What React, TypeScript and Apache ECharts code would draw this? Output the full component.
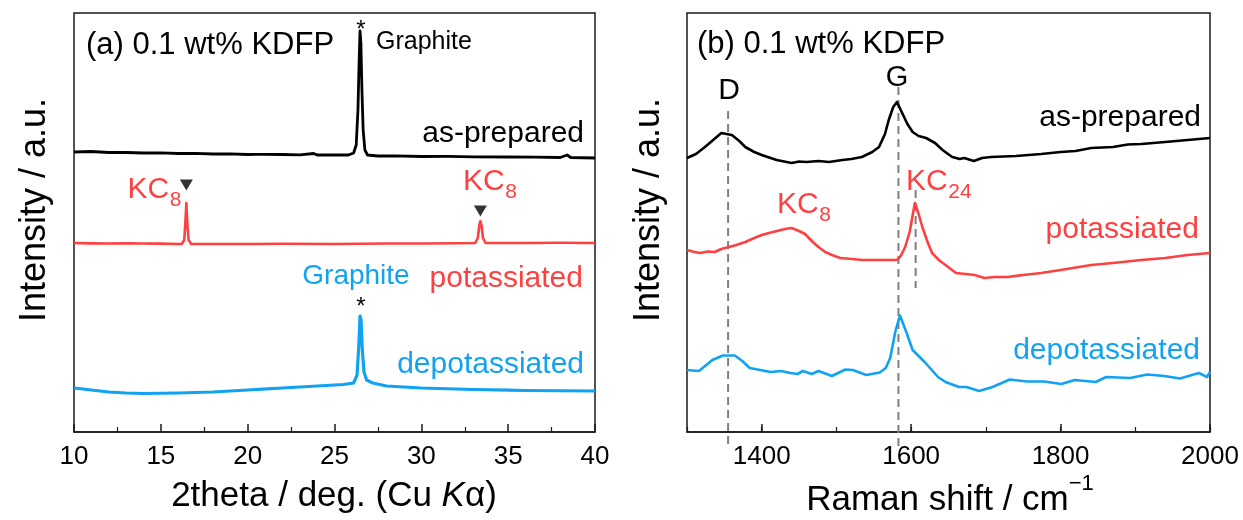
import React, { useEffect, useRef } from "react";
import * as echarts from "echarts";

const FONT = "'Liberation Sans', Arial, Helvetica, sans-serif";
const RED = "#ff4040";
const BLUE = "#12a2f2";
const DASH = "#808080";

// ---- XRD: 2theta (deg) vs intensity (offset, a.u.) ----
const xrdAsPrepared: number[][] = [
  [10, 280], [11, 280.5], [12, 279.5], [13, 279.5], [14, 279], [15, 279.2], [16, 278.5], [17, 278.6], [18, 278],
  [19, 278.2], [20, 277.5], [21, 277.6], [22, 277.5], [23, 277.2], [23.8, 278.5], [24, 277], [25, 277],
  [25.8, 277], [26.1, 279], [26.25, 287], [26.35, 322], [26.42, 372], [26.47, 401], [26.52, 389],
  [26.58, 342], [26.65, 302], [26.75, 282], [26.9, 277], [27.5, 276], [28.5, 276.2], [30, 275.5],
  [31.5, 275.6], [33, 275.2], [35, 275], [36.5, 274.8], [38, 274.5], [38.4, 277], [38.6, 274.5], [40, 274],
];
const xrdPotassiated: number[][] = [
  [10, 189], [11, 188.6], [12, 188.5], [13, 188.8], [14, 188.5], [15, 188.4], [16, 188], [16.2, 188],
  [16.35, 192], [16.42, 212], [16.47, 229], [16.52, 210], [16.6, 192], [16.75, 188], [18, 188],
  [20, 188], [22, 188.2], [25, 188], [28, 188.5], [30, 188.5], [32, 188.7], [33.1, 189], [33.25, 194],
  [33.35, 208], [33.4, 211], [33.47, 206], [33.55, 194], [33.7, 189], [36, 189], [38, 189.2], [40, 189],
];
const xrdDepotassiated: number[][] = [
  [10, 44], [11, 42], [12, 40], [13, 39], [14, 38.5], [16, 39], [18, 40], [20, 42], [22, 44], [24, 46],
  [25.5, 47.5], [26.1, 49], [26.3, 57], [26.4, 87], [26.47, 116], [26.53, 112], [26.6, 82], [26.7, 60],
  [26.85, 52], [27.2, 49], [28, 46], [30, 44], [33, 42.5], [36, 41.5], [40, 41],
];
const xrdMarkers: number[][] = [[16.47, 247], [33.4, 221]];

// ---- Raman: shift (cm-1) vs intensity (offset, a.u.) ----
const ramanAsPrepared: number[][] = [
  [1300, 274], [1312, 278], [1324, 285], [1335, 292], [1346, 299], [1360, 297], [1370, 291], [1378, 285],
  [1390, 280], [1400, 277], [1420, 272], [1440, 269], [1450, 270.5], [1460, 270], [1476, 271],
  [1490, 270], [1508, 272], [1520, 273], [1534, 275], [1548, 280], [1557, 285], [1565, 298], [1570, 312],
  [1576, 325], [1581, 330], [1588, 319], [1595, 308], [1602, 300], [1610, 296], [1620, 294],
  [1632, 289], [1642, 282], [1655, 275], [1665, 273], [1671, 274], [1684, 271], [1695, 274],
  [1707, 275], [1740, 276], [1774, 278], [1800, 280], [1820, 281], [1841, 284], [1870, 285],
  [1890, 287.5], [1908, 288], [1940, 290], [1970, 292], [2000, 294],
];
const ramanPotassiated: number[][] = [
  [1300, 182], [1310, 180], [1318, 179], [1328, 180.5], [1337, 180], [1346, 183], [1356, 185],
  [1366, 187], [1378, 190], [1390, 194], [1400, 197], [1415, 200], [1431, 203], [1440, 204],
  [1450, 201], [1458, 198], [1467, 191], [1476, 185], [1485, 180], [1494, 177], [1505, 174],
  [1521, 173], [1535, 172], [1548, 172], [1565, 172], [1581, 172], [1586, 176], [1592, 185],
  [1598, 200], [1605, 229], [1610, 218], [1615, 205], [1622, 190], [1628, 179], [1637, 172],
  [1646, 167], [1653, 163], [1660, 159], [1673, 158], [1685, 157], [1698, 154], [1712, 155],
  [1729, 155], [1750, 157], [1774, 159], [1800, 162], [1841, 167], [1870, 169], [1908, 172],
  [1940, 174], [1970, 177], [2000, 179],
];
const ramanDepotassiated: number[][] = [
  [1300, 62], [1316, 61], [1334, 72], [1348, 76.5], [1364, 76.5], [1374, 71], [1384, 64], [1398, 62],
  [1412, 60], [1426, 61], [1438, 59], [1448, 58], [1455, 61], [1467, 58], [1476, 61], [1494, 56],
  [1512, 62.5], [1522, 62], [1540, 57], [1558, 59.5], [1566, 64], [1572, 74], [1579, 101],
  [1585, 116.5], [1593, 101], [1602, 82], [1618, 70], [1636, 55], [1646, 50], [1664, 45], [1674, 45],
  [1691, 41], [1709, 45], [1732, 52.5], [1755, 50.5], [1778, 50.5], [1801, 48], [1819, 52],
  [1847, 50], [1861, 55], [1893, 54], [1916, 57.5], [1939, 56], [1960, 53.5], [1985, 59], [1996, 55],
  [2000, 60],
];
const ramanLabelTicks = [1400, 1600, 1800, 2000];
// dashed guides: [shift, top value, bottom value]
const ramanGuides: number[][] = [[1355, 321, -14], [1583, 345, -14], [1606, 242, 144]];

const frameColor = "#1a1a1a";

function line(data: number[][], color: string, axis: number, width: number) {
  return {
    type: "line",
    xAxisIndex: axis,
    yAxisIndex: axis,
    data,
    showSymbol: false,
    symbol: "none",
    silent: true,
    lineStyle: { color, width, join: "round" },
    itemStyle: { color },
  };
}

function txt(x: number, y: number, text: string, opts: any = {}) {
  return {
    type: "text",
    x,
    y,
    silent: true,
    style: {
      text,
      fontFamily: FONT,
      fontSize: opts.size ?? 30,
      fill: opts.color ?? "#000",
      textAlign: opts.align ?? "left",
      textVerticalAlign: opts.valign ?? "middle",
      rich: opts.rich,
      fontStyle: opts.italic ? "italic" : "normal",
    },
    rotation: opts.rotation ?? 0,
  };
}

// "KC" + subscript; x is the left edge (or right edge when alignRight), y the centre of the capitals
const KC_W = 41.7;
const SUB_DIGIT_W = 11.7;
function kc(x: number, y: number, sub: string, color: string, alignRight = false) {
  const subW = SUB_DIGIT_W * sub.length;
  const left = alignRight ? x - KC_W - subW : x;
  return [
    txt(left, y, "KC", { color, size: 30 }),
    txt(left + KC_W + 0.5, y + 11, sub, { color, size: 21 }),
  ];
}

export default function App() {
  const ref = useRef<HTMLDivElement>(null);
  useEffect(() => {
    document.body.style.margin = "0";
    const chart = echarts.init(ref.current!, null, { renderer: "svg" });
    const axisCommon = {
      axisLine: { show: true, lineStyle: { color: frameColor, width: 1.5 } },
      splitLine: { show: false },
    };
    const labelStyle = { fontSize: 26, color: "#000", fontFamily: FONT, margin: 10, formatter: (v: number) => String(v) };
    chart.setOption({
      animation: false,
      grid: [
        { left: 74, right: 648, top: 13, bottom: 88, show: true, borderColor: frameColor, borderWidth: 1.5, backgroundColor: "transparent" },
        { left: 687, right: 33, top: 13, bottom: 88, show: true, borderColor: frameColor, borderWidth: 1.5, backgroundColor: "transparent" },
      ],
      xAxis: [
        {
          ...axisCommon,
          type: "value",
          gridIndex: 0,
          position: "bottom",
          min: 10,
          max: 40,
          interval: 5,
          axisTick: { show: true, inside: true, length: 8, lineStyle: { color: frameColor, width: 1.5 } },
          minorTick: { show: true, splitNumber: 2, length: 5, lineStyle: { color: frameColor, width: 1.2 } },
          axisLabel: labelStyle,
        },
        {
          ...axisCommon,
          type: "value",
          gridIndex: 1,
          position: "bottom",
          min: 1300,
          max: 2000,
          interval: 100,
          axisTick: { show: true, inside: true, length: 8, customValues: ramanLabelTicks, lineStyle: { color: frameColor, width: 1.5 } },
          axisLabel: { ...labelStyle, customValues: ramanLabelTicks },
        },
        {
          type: "value",
          gridIndex: 1,
          position: "bottom",
          min: 1300,
          max: 2000,
          interval: 100,
          axisLine: { show: false },
          splitLine: { show: false },
          axisLabel: { show: false },
          axisTick: { show: true, inside: true, length: 5, lineStyle: { color: frameColor, width: 1.2 } },
        },
      ],
      yAxis: [0, 1].map((g) => ({
        type: "value",
        gridIndex: g,
        min: 0,
        max: 419,
        axisLine: { show: false },
        axisTick: { show: false },
        axisLabel: { show: false },
        splitLine: { show: false },
      })),
      series: [
        line(xrdAsPrepared, "#000", 0, 2.8),
        line(xrdPotassiated, RED, 0, 2.6),
        line(xrdDepotassiated, BLUE, 0, 3.2),
        {
          type: "scatter",
          xAxisIndex: 0,
          yAxisIndex: 0,
          data: xrdMarkers,
          symbol: "triangle",
          symbolRotate: 180,
          symbolSize: [13, 11],
          itemStyle: { color: "#000" },
          silent: true,
        },
        line(ramanAsPrepared, "#000", 1, 2.6),
        line(ramanPotassiated, RED, 1, 2.6),
        line(ramanDepotassiated, BLUE, 1, 2.6),
      ],
    });

    const toPx = (v: number[]) => chart.convertToPixel({ xAxisIndex: 1, yAxisIndex: 1 } as any, v) as number[];
    const guides = ramanGuides.map(([x, yTop, yBot]) => {
      const a = toPx([x, yTop]);
      const b = toPx([x, yBot]);
      return {
        type: "line",
        silent: true,
        z: 1,
        shape: { x1: a[0], y1: a[1], x2: b[0], y2: b[1] },
        style: { stroke: DASH, lineWidth: 2, lineDash: [8, 5] },
      };
    });

    chart.setOption({
      graphic: [
        ...guides,
        // panel (a)
        txt(86, 43, "(a) 0.1 wt% KDFP", { size: 31 }),
        txt(361, 28, "*", { size: 24, align: "center" }),
        txt(376, 40, "Graphite", { size: 25 }),
        txt(584, 131, "as-prepared", { align: "right" }),
        ...kc(181, 187, "8", RED, true),
        ...kc(463, 179, "8", RED),
        txt(356, 274, "Graphite", { size: 28, color: BLUE, align: "center" }),
        txt(583, 276, "potassiated", { color: RED, align: "right" }),
        txt(361, 305, "*", { size: 24, align: "center" }),
        txt(584, 362, "depotassiated", { color: BLUE, align: "right" }),
        // panel (b)
        txt(697, 42, "(b) 0.1 wt% KDFP", { size: 31 }),
        txt(729, 88, "D", { align: "center" }),
        txt(897, 76, "G", { size: 29, align: "center" }),
        txt(1201, 115, "as-prepared", { align: "right" }),
        ...kc(777, 202, "8", RED),
        ...kc(906, 179, "24", RED),
        txt(1199, 227, "potassiated", { color: RED, align: "right" }),
        txt(1200, 348, "depotassiated", { color: BLUE, align: "right" }),
        // axis titles
        txt(32, 210, "Intensity / a.u.", { size: 36, align: "center", rotation: Math.PI / 2 }),
        txt(646, 210, "Intensity / a.u.", { size: 36, align: "center", rotation: Math.PI / 2 }),
        txt(334, 493, "{n|2theta / deg. (Cu }{i|K}{n|α)}", {
          align: "center",
          rich: {
            n: { fontSize: 35, fontFamily: FONT, fill: "#000" },
            i: { fontSize: 35, fontFamily: FONT, fontStyle: "italic", fill: "#000" },
          },
        }),
        txt(950, 493, "{n|Raman shift / cm}{s|−1}", {
          align: "center",
          rich: {
            n: { fontSize: 35, lineHeight: 44, verticalAlign: "bottom", fontFamily: FONT, fill: "#000" },
            s: { fontSize: 22, lineHeight: 22, verticalAlign: "top", fontFamily: FONT, fill: "#000" },
          },
        }),
      ],
    });
    return () => chart.dispose();
  }, []);
  return <div ref={ref} style={{ width: 1243, height: 520, position: "fixed", left: 0, top: 0 }} />;
}
